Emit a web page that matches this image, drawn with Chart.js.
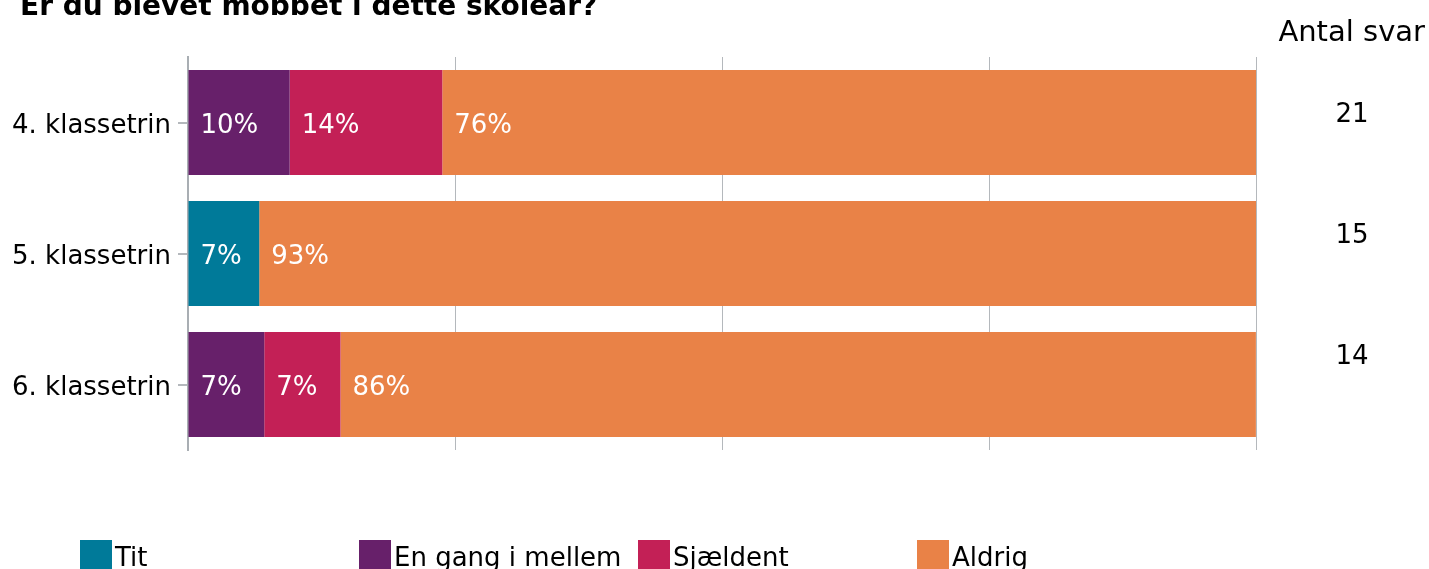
<!DOCTYPE html>
<html>
<head>
<meta charset="utf-8">
<script src="https://cdn.jsdelivr.net/npm/chart.js@4.4.0/dist/chart.umd.min.js"></script>
<style>
  html, body { margin: 0; padding: 0; background: #fff; overflow: hidden; }
  #wrap { width: 1429px; height: 569px; position: relative; }
</style>
</head>
<body>
<div id="wrap"><canvas id="chart"></canvas></div>
<script>
const title = 'Er du blevet mobbet i dette skoleår?';
const categories = ['4. klassetrin', '5. klassetrin', '6. klassetrin'];
const seriesNames = ['Tit', 'En gang i mellem', 'Sjældent', 'Aldrig'];
const seriesColors = ['#007a99', '#67206a', '#c32056', '#e98247'];
// percentages per series, one per category
const titValues = [0, 6.67, 0];
const engangValues = [9.52, 0, 7.14];
const sjaeldentValues = [14.29, 0, 7.14];
const aldrigValues = [76.19, 93.33, 85.71];
const antalSvar = [21, 15, 14];
const xTicks = [0, 25, 50, 75, 100];

const FONT = 'Verdana, "DejaVu Sans", sans-serif';

const allValues = [titValues, engangValues, sjaeldentValues, aldrigValues];

// white percent labels inside each segment
const segmentLabels = {
    id: 'segmentLabels',
    afterDatasetsDraw(chart) {
        const ctx = chart.ctx;
        ctx.save();
        ctx.font = '26px ' + FONT;
        ctx.fillStyle = '#ffffff';
        ctx.textAlign = 'left';
        ctx.textBaseline = 'middle';
        chart.data.datasets.forEach((ds, di) => {
            const meta = chart.getDatasetMeta(di);
            meta.data.forEach((bar, i) => {
                const v = ds.data[i];
                if (!v) return;
                const left = Math.min(bar.base, bar.x);
                ctx.fillText(Math.round(v) + '%', left + 12, bar.y + 4);
            });
        });
        ctx.restore();
    }
};

// title, "Antal svar" column and legend
const extras = {
    id: 'extras',
    afterDraw(chart) {
        const ctx = chart.ctx;
        const area = chart.chartArea;
        ctx.save();
        ctx.fillStyle = '#000';
        ctx.textBaseline = 'alphabetic';

        ctx.font = 'bold 28px ' + FONT;
        ctx.textAlign = 'left';
        ctx.fillText(title, 20, 15);

        ctx.font = '29px ' + FONT;
        ctx.textAlign = 'right';
        ctx.fillText('Antal svar', 1425, 41);

        ctx.font = '26px ' + FONT;
        ctx.textAlign = 'center';
        ctx.textBaseline = 'middle';
        antalSvar.forEach((n, i) => {
            ctx.fillText(String(n), 1352, area.top + 58 + i * 121);
        });

        // legend in fixed columns
        ctx.textAlign = 'left';
        ctx.textBaseline = 'alphabetic';
        chart.data.datasets.forEach((ds, i) => {
            const x = 80 + i * 279;
            ctx.fillStyle = ds.backgroundColor;
            ctx.fillRect(x, 540, 32, 40);
            ctx.fillStyle = '#000';
            ctx.fillText(ds.label, x + 35, 566);
        });
        ctx.restore();
    }
};

new Chart(document.getElementById('chart'), {
    type: 'bar',
    data: {
        labels: categories,
        datasets: seriesNames.map((name, i) => ({
            label: name,
            data: allValues[i],
            backgroundColor: seriesColors[i],
            borderWidth: 0,
            categoryPercentage: 0.8,
            barPercentage: 1
        }))
    },
    options: {
        indexAxis: 'y',
        responsive: true,
        maintainAspectRatio: false,
        animation: false,
        layout: {
            padding: { top: 57, right: 173, bottom: 119, left: 0 }
        },
        scales: {
            x: {
                stacked: true,
                min: 0,
                max: 100,
                afterBuildTicks: (scale) => {
                    scale.ticks = xTicks.map(v => ({ value: v }));
                },
                afterFit: (scale) => { scale.height = 0; },
                ticks: { display: false },
                grid: { color: '#b4b8bc', lineWidth: 1, drawTicks: false },
                border: { display: false }
            },
            y: {
                stacked: true,
                afterFit: (scale) => { scale.width = 188; },
                ticks: {
                    color: '#000',
                    padding: 7,
                    labelOffset: 4,
                    font: { family: FONT, size: 26 }
                },
                grid: {
                    offset: false,
                    drawOnChartArea: false,
                    drawTicks: true,
                    tickLength: 10,
                    color: '#b4b8bc',
                    lineWidth: 2
                },
                border: { display: true, color: '#a9aeb3', width: 2 }
            }
        },
        plugins: {
            legend: { display: false },
            tooltip: { enabled: false }
        }
    },
    plugins: [segmentLabels, extras]
});
</script>
</body>
</html>
